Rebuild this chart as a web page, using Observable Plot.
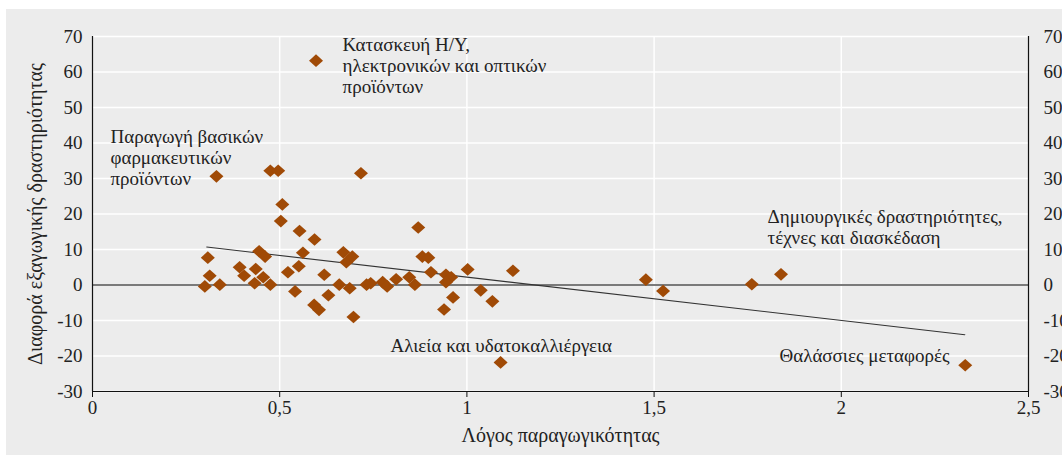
<!DOCTYPE html>
<html><head><meta charset="utf-8">
<script src="https://cdn.jsdelivr.net/npm/d3@7"></script>
<script src="https://cdn.jsdelivr.net/npm/@observablehq/plot@0.6"></script>
<style>
html,body{margin:0;padding:0;background:#fff;overflow:hidden;}
#chart{position:absolute;left:6px;top:9px;width:1056px;height:446px;background:#ececec;}
#chart svg, #chart svg text{font-family:"Liberation Serif","Times New Roman",serif !important;}
</style></head><body><div id="chart"></div>
<script>
// Productivity ratio (x) and export activity difference (y) per industry
const productivityRatio = [0.331,0.475,0.496,0.717,0.597,0.507,0.503,0.553,0.593,0.308,0.313,0.300,0.340,0.393,0.405,0.436,0.445,0.461,0.456,0.433,0.475,0.522,0.551,0.562,0.541,0.592,0.605,0.619,0.630,0.659,0.670,0.687,0.678,0.694,0.697,0.732,0.743,0.870,0.881,0.897,0.904,0.775,0.787,0.811,0.846,0.861,0.944,0.958,0.944,1.002,0.963,0.939,1.037,1.068,1.123,1.090,1.478,1.524,1.761,1.839,2.331];
const exportDifference = [30.6,32.2,32.2,31.5,63.2,22.7,18.0,15.2,12.8,7.7,2.6,-0.4,0.1,5.0,2.6,4.5,9.5,8.0,2.2,0.5,0.1,3.6,5.3,9.1,-1.8,-5.6,-7.0,2.9,-2.9,0.1,9.2,-0.9,6.4,8.0,-9.0,0.1,0.5,16.2,8.0,7.7,3.6,0.8,-0.4,1.6,2.2,0.1,2.9,2.2,0.8,4.4,-3.5,-6.9,-1.5,-4.6,4.0,-21.8,1.5,-1.7,0.2,3.0,-22.6];
const trendX = [0.305, 2.33];
const trendY = [10.7, -14.0];
const labelText = ["Κατασκευή Η/Υ,\nηλεκτρονικών και οπτικών\nπροϊόντων","Παραγωγή βασικών\nφαρμακευτικών\nπροϊόντων","Δημιουργικές δραστηριότητες,\nτέχνες και διασκέδαση","Αλιεία και υδατοκαλλιέργεια","Θαλάσσιες μεταφορές"];
const labelX = [0.668, 0.048, 1.803, 0.796, 1.835];
const labelY = [61.8, 35.9, 16.5, -17.0, -19.8];
const xTicks = [0, 0.5, 1, 1.5, 2, 2.5];
const yTicks = [-30,-20,-10,0,10,20,30,40,50,60,70];
const xTitle = "Λόγος παραγωγικότητας";
const yTitle = "Διαφορά εξαγωγικής δραστηριότητας";

const points = productivityRatio.map((x, i) => ({x, y: exportDifference[i]}));
const trend = trendX.map((x, i) => ({x, y: trendY[i]}));
const labels = labelText.map((t, i) => ({t, x: labelX[i], y: labelY[i]}));
const fmtX = d => String(d).replace(".", ",");
const fmtY = d => String(d);
const wideDiamond = {draw(ctx) { ctx.moveTo(-7, 0); ctx.lineTo(0, -6.3); ctx.lineTo(7, 0); ctx.lineTo(0, 6.3); ctx.closePath(); }};
const ink = "#222";
const serif = "Liberation Serif";

const chart = Plot.plot({
  width: 1056, height: 446,
  marginLeft: 86, marginRight: 34, marginTop: 27, marginBottom: 64,
  style: {fontFamily: serif, fontSize: "19px", background: "transparent", overflow: "visible", color: ink},
  x: {domain: [0, 2.5]},
  y: {domain: [-30, 70]},
  marks: [
    Plot.gridY(yTicks, {stroke: "#fff", strokeOpacity: 1, strokeWidth: 1.5}),
    Plot.gridX(xTicks.slice(1, -1), {stroke: "#fff", strokeOpacity: 1, strokeWidth: 1.5}),
    Plot.ruleY([0], {stroke: "#7a7a7a", strokeWidth: 2}),
    Plot.line(trend, {x: "x", y: "y", stroke: "#333", strokeWidth: 1.1}),
    Plot.dot(points, {x: "x", y: "y", symbol: wideDiamond, fill: "#a04a06", stroke: "none"}),
    Plot.text(labels, {x: "x", y: "y", text: "t", textAnchor: "start", lineAnchor: "middle", lineHeight: 1.1, fill: ink, fontSize: 19, fontFamily: serif}),
    Plot.ruleX([0, 2.5], {stroke: "#111", strokeWidth: 1.2}),
    Plot.ruleY([-30], {stroke: "#111", strokeWidth: 1.2}),
    Plot.axisY(yTicks, {anchor: "left", tickSize: 0, tickPadding: 10, tickFormat: fmtY, label: null, fill: ink, fontSize: 19, fontFamily: serif}),
    Plot.axisY(yTicks, {anchor: "right", tickSize: 0, tickPadding: 15, tickFormat: fmtY, label: null, fill: ink, fontSize: 19, fontFamily: serif}),
    Plot.axisX(xTicks, {anchor: "bottom", tickSize: 6, tickPadding: 3, tickFormat: fmtX, label: null, fill: ink, stroke: "#111", fontSize: 19, fontFamily: serif}),
    Plot.text([yTitle], {frameAnchor: "left", dx: -57, rotate: -90, textAnchor: "middle", text: d => d, fill: ink, fontSize: 20, fontFamily: serif}),
    Plot.text([xTitle], {frameAnchor: "bottom", dy: 50, textAnchor: "middle", text: d => d, fill: ink, fontSize: 20, fontFamily: serif})
  ]
});
document.getElementById("chart").appendChild(chart);
</script>
</body></html>
